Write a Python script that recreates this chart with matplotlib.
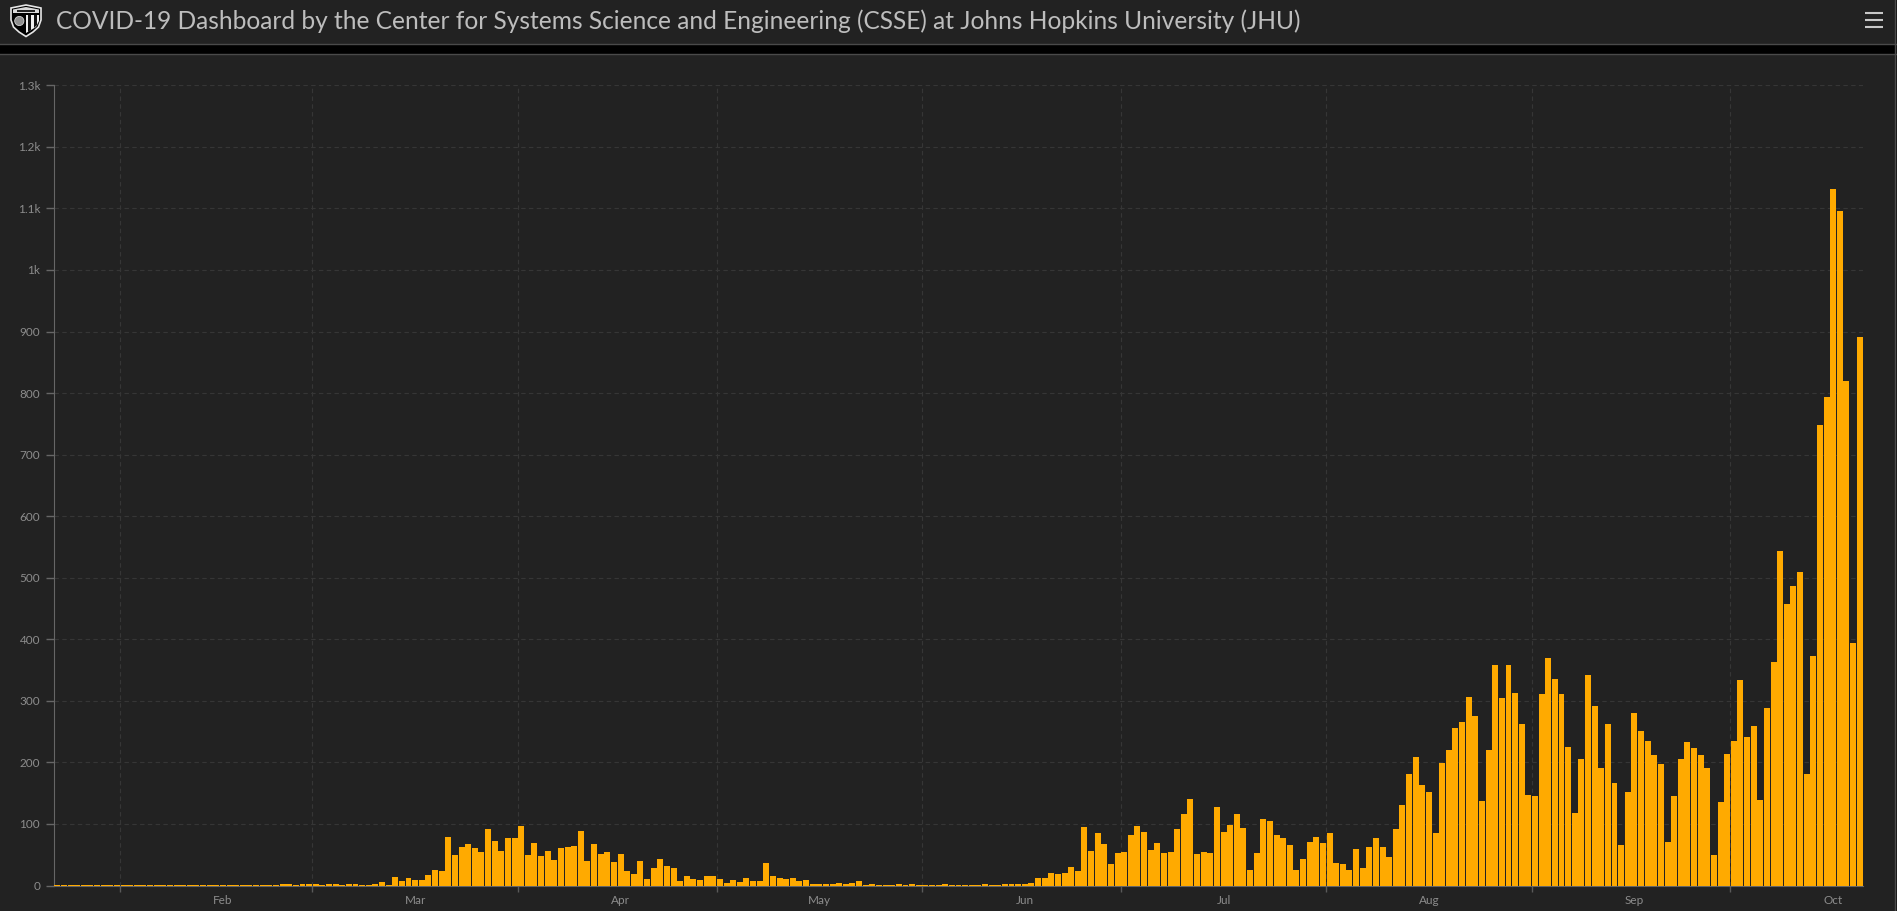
#!/usr/bin/env python3
import matplotlib
matplotlib.use("Agg")
import matplotlib.pyplot as plt
from matplotlib.patches import Circle, Polygon, Rectangle

# daily cases, one value per day starting Jan 22
early = [0.6] * 34
late_feb = [2, 2, 1, 2, 2, 2, 1, 2, 2, 1, 2, 2, 1, 1, 2, 5, 1, 13]
march_apr = [7, 12, 9, 9, 17, 25, 24, 79, 49, 62, 67, 61, 55, 92, 72, 56, 77, 77, 96, 49,
             69, 48, 56, 41, 61, 62, 64, 88, 40, 67, 51, 54, 38, 51, 23, 18, 40, 10, 28, 43,
             31, 28, 7, 15, 10, 9, 15, 15, 10, 4, 9, 5, 12, 7, 7, 36, 15, 12, 10, 12,
             7, 9, 2, 2, 2, 2, 4, 2, 4, 7]
may_jun = [0.6, 2, 0.6, 0.6, 0.6, 2, 0.6, 2, 1, 0.6, 0.6, 0.6, 2, 0.6, 0.6, 0.6, 0.6, 0.6, 2, 0.6,
           0.6, 2, 2, 2, 2, 4, 12, 12, 20, 18, 20, 30, 23, 95, 56, 85, 67, 35, 53, 54,
           82, 96, 87, 57, 69, 53, 54, 92, 116, 140, 51, 54, 53, 127, 87, 98, 116, 93, 25, 53,
           108, 104, 82, 77, 66, 25, 43, 70, 78, 69, 85, 36]
aug_sep = [35, 25, 59, 28, 62, 77, 62, 46, 92, 131, 181, 209, 163, 152, 85, 199, 220, 256, 266, 306,
           275, 137, 220, 358, 305, 358, 313, 262, 147, 145, 311, 370, 336, 311, 225, 118, 206, 342, 292, 191,
           262, 167, 66, 152, 280, 251, 235, 212, 197, 71, 145, 206, 233, 223, 212, 191, 50, 136, 214, 235,
           334, 241, 259, 139, 288, 363, 544, 457, 487, 509, 181, 373, 748, 794, 1132, 1096, 820, 394, 891]
values = early + late_feb + march_apr + may_jun + aug_sep

month_names = ["Feb", "Mar", "Apr", "May", "Jun", "Jul", "Aug", "Sep", "Oct"]
month_starts = [10, 39, 70, 100, 131, 161, 192, 223, 253]
y_ticks = [0, 100, 200, 300, 400, 500, 600, 700, 800, 900, 1000, 1100, 1200, 1300]
y_labels = ["0", "100", "200", "300", "400", "500", "600", "700", "800", "900", "1k", "1.1k", "1.2k", "1.3k"]

title = "COVID-19 Dashboard by the Center for Systems Science and Engineering (CSSE) at Johns Hopkins University (JHU)"

W, H = 1897, 911
BG = "#222222"
GRID = "#363636"
TICK = "#8c8c8c"

plt.rcParams["font.family"] = ["Lato", "DejaVu Sans"]
fig = plt.figure(figsize=(W / 100, H / 100), dpi=100, facecolor=BG)

# header and frame drawn in pixel coordinates
bg = fig.add_axes([0, 0, 1, 1])
bg.set_xlim(0, W)
bg.set_ylim(H, 0)
bg.axis("off")
bg.add_patch(Rectangle((0, 43.5), W, 10, fc="black", ec="none"))
bg.plot([0, W], [43.5, 43.5], color="#4a4a4a", lw=1)
bg.plot([0, W], [53.7, 53.7], color="#4a4a4a", lw=1)
bg.add_patch(Rectangle((1895, 0), 2, H, fc="#111111", ec="none"))
bg.plot([1894.7, 1894.7], [0, H], color="#4a4a4a", lw=1)
bg.text(56, 21, title, color="#bdbdbd", fontsize=17.65, va="center", ha="left")

# menu icon
for y in (13, 20, 27):
    bg.plot([1865, 1883], [y, y], color="#c8c8c8", lw=1.5, solid_capstyle="butt")

# shield logo
shield = [(11, 8), (26, 5), (41, 8), (41, 20), (38.5, 27), (33, 32), (26, 36.5), (19, 32), (13.5, 27), (11, 20)]
bg.add_patch(Polygon(shield, closed=True, fc="black", ec="#e6e6e6", lw=1.2))
bg.add_patch(Polygon([(13, 9.5), (26, 7), (39, 9.5), (39, 13), (13, 13)], closed=True, fc="#d8d8d8", ec="none"))
bg.add_patch(Rectangle((17, 10), 18, 1.5, fc="#222222", ec="none"))
bg.add_patch(Circle((19.3, 21), 4.6, fc="#8e8e8e", ec="#cfcfcf", lw=0.6))
bg.add_patch(Polygon([(26, 15), (39, 15), (39, 21), (36, 27), (26, 33)], closed=True, fc="#efefef", ec="none"))
bg.add_patch(Polygon([(28, 15), (31, 15), (31, 30), (28, 32)], closed=True, fc="#111111", ec="none"))
bg.add_patch(Polygon([(34, 15), (37, 15), (37, 25), (34, 28)], closed=True, fc="#111111", ec="none"))

# chart
ax = fig.add_axes([54 / W, 1 - 885.5 / H, (1863 - 54) / W, (885.5 - 85.3) / H])
ax.set_facecolor("none")
ax.set_xlim(0, 273)
ax.set_ylim(0, 1300)
ax.bar([i + 0.5 for i in range(len(values))], values, width=0.9, color="#ffaa00", zorder=3)

ax.set_yticks(y_ticks)
ax.set_yticklabels(y_labels)
ax.set_xticks(month_starts)
ax.set_xticklabels([])
ax.set_xticks([m + 15.5 for m in month_starts], labels=month_names, minor=True)

ax.tick_params(axis="y", length=6, width=1, color="#666666", labelcolor=TICK, labelsize=8.5, pad=4)
ax.tick_params(axis="x", which="major", length=4.5, width=1, color="#5a5a5a")
ax.tick_params(axis="x", which="minor", length=0, labelcolor=TICK, labelsize=8.5, pad=7)

ax.grid(True, which="major", color=GRID, lw=0.8, ls=(0, (4, 3)), zorder=0)
ax.set_axisbelow(True)
for s in ("top", "right"):
    ax.spines[s].set_visible(False)
ax.spines["left"].set_color("#666666")
ax.spines["bottom"].set_color("#666666")

fig.savefig("out.png", dpi=100, facecolor=fig.get_facecolor())
